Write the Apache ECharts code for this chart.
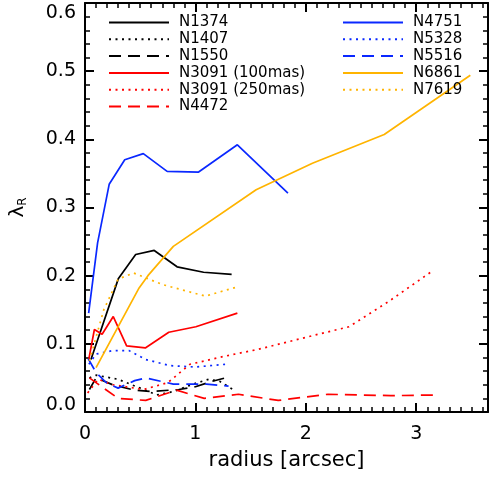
<!DOCTYPE html>
<html>
<head>
<meta charset="utf-8">
<script src="https://cdn.jsdelivr.net/npm/echarts@6/dist/echarts.min.js"></script>
<style>
html,body{margin:0;padding:0;background:#fff;}
#c{width:489px;height:478px;}
</style>
</head>
<body>
<div id="c"></div>
<script>
// ---- data (radius in arcsec, lambda_R) ----
const R_N1374 = [0.054,0.303,0.459,0.627,0.834,1.074,1.328];
const L_N1374 = [0.077,0.196,0.231,0.237,0.213,0.205,0.202];
const R_N1407 = [0.04,0.10,0.30,0.50,0.65,0.80,1.00,1.12,1.22,1.35];
const L_N1407 = [0.050,0.054,0.048,0.035,0.025,0.030,0.042,0.048,0.045,0.032];
const R_N1550 = [0.04,0.10,0.25,0.45,0.60,0.85,1.00,1.15,1.27];
const L_N1550 = [0.033,0.050,0.040,0.032,0.030,0.033,0.037,0.045,0.050];
const R_N3091a = [0.033,0.085,0.155,0.256,0.377,0.546,0.759,1.004,1.38];
const L_N3091a = [0.076,0.121,0.114,0.140,0.097,0.094,0.117,0.125,0.145];
const R_N3091b = [0.024,0.12,0.25,0.53,0.75,0.95,1.27,1.57,2.11,2.39,2.74,3.13];
const L_N3091b = [0.028,0.048,0.040,0.033,0.043,0.070,0.082,0.092,0.114,0.125,0.161,0.205];
const R_N4472 = [0.04,0.30,0.55,0.83,1.08,1.39,1.75,2.20,2.77,3.20];
const L_N4472 = [0.050,0.020,0.017,0.032,0.020,0.026,0.017,0.026,0.024,0.025];
const R_N4751 = [0.033,0.114,0.219,0.36,0.528,0.744,1.029,1.38,1.838];
const L_N4751 = [0.145,0.248,0.334,0.370,0.379,0.353,0.352,0.392,0.321];
const R_N5328 = [0.035,0.10,0.25,0.40,0.55,0.77,1.00,1.27];
const L_N5328 = [0.070,0.085,0.090,0.090,0.077,0.068,0.066,0.070];
const R_N5516 = [0.03,0.10,0.20,0.30,0.45,0.55,0.80,1.10,1.30];
const L_N5516 = [0.078,0.058,0.042,0.035,0.046,0.050,0.041,0.041,0.038];
const R_N6861 = [0.10,0.49,0.57,0.80,1.55,2.06,2.71,3.49];
const L_N6861 = [0.065,0.182,0.200,0.243,0.326,0.365,0.407,0.494];
const R_N7619 = [0.04,0.17,0.30,0.44,0.70,1.09,1.39];
const L_N7619 = [0.075,0.150,0.195,0.204,0.187,0.170,0.184];

const NAMES_LEFT = ['N1374','N1407','N1550','N3091 (100mas)','N3091 (250mas)','N4472'];
const NAMES_RIGHT = ['N4751','N5328','N5516','N6861','N7619'];

const X_MIN = 0, X_MAX = 3.65, Y_MIN = 0, Y_MAX = 0.6;

const BLACK = '#000000', RED = '#ff0000', BLUE = '#0a28ff', ORANGE = '#ffb400';
const DOT = [2, 4.5], DASH = [12, 7];

function zip(a, b) { return a.map((v, i) => [v, b[i]]); }
function mk(name, r, l, color, type) {
  return {
    name: name, type: 'line', data: zip(r, l), symbol: 'none', showSymbol: false,
    xAxisIndex: 0, yAxisIndex: 0, animation: false,
    lineStyle: { color: color, width: 1.7, type: type },
    itemStyle: { color: color }
  };
}

const FONT = 'DejaVu Sans';
const tickInside = (len, w) => ({ show: true, inside: true, length: len, lineStyle: { color: '#000', width: w } });
const legendBase = {
  orient: 'vertical', top: 15, padding: 0,
  itemWidth: 60, itemHeight: 14, itemGap: 1.8, selectedMode: false,
  itemStyle: { opacity: 0, borderWidth: 0 },
  textStyle: { fontFamily: FONT, fontSize: 15, color: '#000', lineHeight: 14, padding: [0,0,0,5] }
};

const chart = echarts.init(document.getElementById('c'), null, { renderer: 'canvas' });
chart.setOption({
  backgroundColor: '#fff',
  animation: false,
  grid: { left: 82, right: 1, top: 3, bottom: 66, containLabel: false },
  legend: [
    Object.assign({}, legendBase, { data: NAMES_LEFT, left: 108 }),
    Object.assign({}, legendBase, { data: NAMES_RIGHT, left: 342 })
  ],
  xAxis: [
    { type: 'value', position: 'bottom', min: X_MIN, max: X_MAX, interval: 1,
      axisLine: { show: true, onZero: false, lineStyle: { color: '#000', width: 2 } },
      axisTick: tickInside(9, 2), splitLine: { show: false },
      axisLabel: { show: true, margin: 13, showMaxLabel: false, fontFamily: FONT, fontSize: 19, color: '#000',
        formatter: v => String(Math.round(v)) },
      name: 'radius [arcsec]', nameLocation: 'middle', nameGap: 38,
      nameTextStyle: { fontFamily: FONT, fontSize: 21, color: '#000' } },
    { type: 'value', position: 'bottom', min: X_MIN, max: X_MAX, interval: 0.1,
      axisLine: { show: false, onZero: false }, axisTick: tickInside(5, 1.5),
      axisLabel: { show: false }, splitLine: { show: false } },
    { type: 'value', position: 'top', min: X_MIN, max: X_MAX, interval: 1,
      axisLine: { show: true, onZero: false, lineStyle: { color: '#000', width: 2 } },
      axisTick: tickInside(9, 2), axisLabel: { show: false }, splitLine: { show: false } },
    { type: 'value', position: 'top', min: X_MIN, max: X_MAX, interval: 0.1,
      axisLine: { show: false, onZero: false }, axisTick: tickInside(5, 1.5),
      axisLabel: { show: false }, splitLine: { show: false } }
  ],
  yAxis: [
    { type: 'value', position: 'left', min: Y_MIN, max: Y_MAX, interval: 0.1,
      axisLine: { show: true, onZero: false, lineStyle: { color: '#000', width: 2 } },
      axisTick: tickInside(9, 2),
      minorTick: { show: true, splitNumber: 5, length: 5, lineStyle: { color: '#000', width: 1.5 } },
      splitLine: { show: false }, minorSplitLine: { show: false },
      axisLabel: { show: true, margin: 9, fontFamily: FONT, fontSize: 19, color: '#000',
        formatter: v => {
          const s = v.toFixed(1);
          if (Math.abs(v - Y_MAX) < 1e-9) return '{top|' + s + '}';
          if (Math.abs(v - Y_MIN) < 1e-9) return '{bot|' + s + '}';
          return s;
        },
        rich: {
          top: { fontFamily: FONT, fontSize: 19, color: '#000', padding: [20, 0, 0, 0] },
          bot: { fontFamily: FONT, fontSize: 19, color: '#000', padding: [0, 0, 14, 0] }
        } },
      name: '{a|λ}{b|R}', nameLocation: 'middle', nameGap: 56, nameRotate: 90,
      nameTextStyle: { rich: {
        a: { fontFamily: FONT, fontSize: 20, color: '#000', lineHeight: 22 },
        b: { fontFamily: FONT, fontSize: 12, color: '#000', verticalAlign: 'bottom', lineHeight: 12 }
      } } },
    { type: 'value', position: 'right', min: Y_MIN, max: Y_MAX, interval: 0.1,
      axisLine: { show: true, onZero: false, lineStyle: { color: '#000', width: 2 } },
      axisTick: tickInside(9, 2),
      minorTick: { show: true, splitNumber: 5, length: 5, lineStyle: { color: '#000', width: 1.5 } },
      splitLine: { show: false }, minorSplitLine: { show: false },
      axisLabel: { show: false } }
  ],
  series: [
    mk('N1374', R_N1374, L_N1374, BLACK, 'solid'),
    mk('N1407', R_N1407, L_N1407, BLACK, DOT),
    mk('N1550', R_N1550, L_N1550, BLACK, DASH),
    mk('N3091 (100mas)', R_N3091a, L_N3091a, RED, 'solid'),
    mk('N3091 (250mas)', R_N3091b, L_N3091b, RED, DOT),
    mk('N4472', R_N4472, L_N4472, RED, DASH),
    mk('N4751', R_N4751, L_N4751, BLUE, 'solid'),
    mk('N5328', R_N5328, L_N5328, BLUE, DOT),
    mk('N5516', R_N5516, L_N5516, BLUE, DASH),
    mk('N6861', R_N6861, L_N6861, ORANGE, 'solid'),
    mk('N7619', R_N7619, L_N7619, ORANGE, DOT)
  ]
});
</script>
</body>
</html>
